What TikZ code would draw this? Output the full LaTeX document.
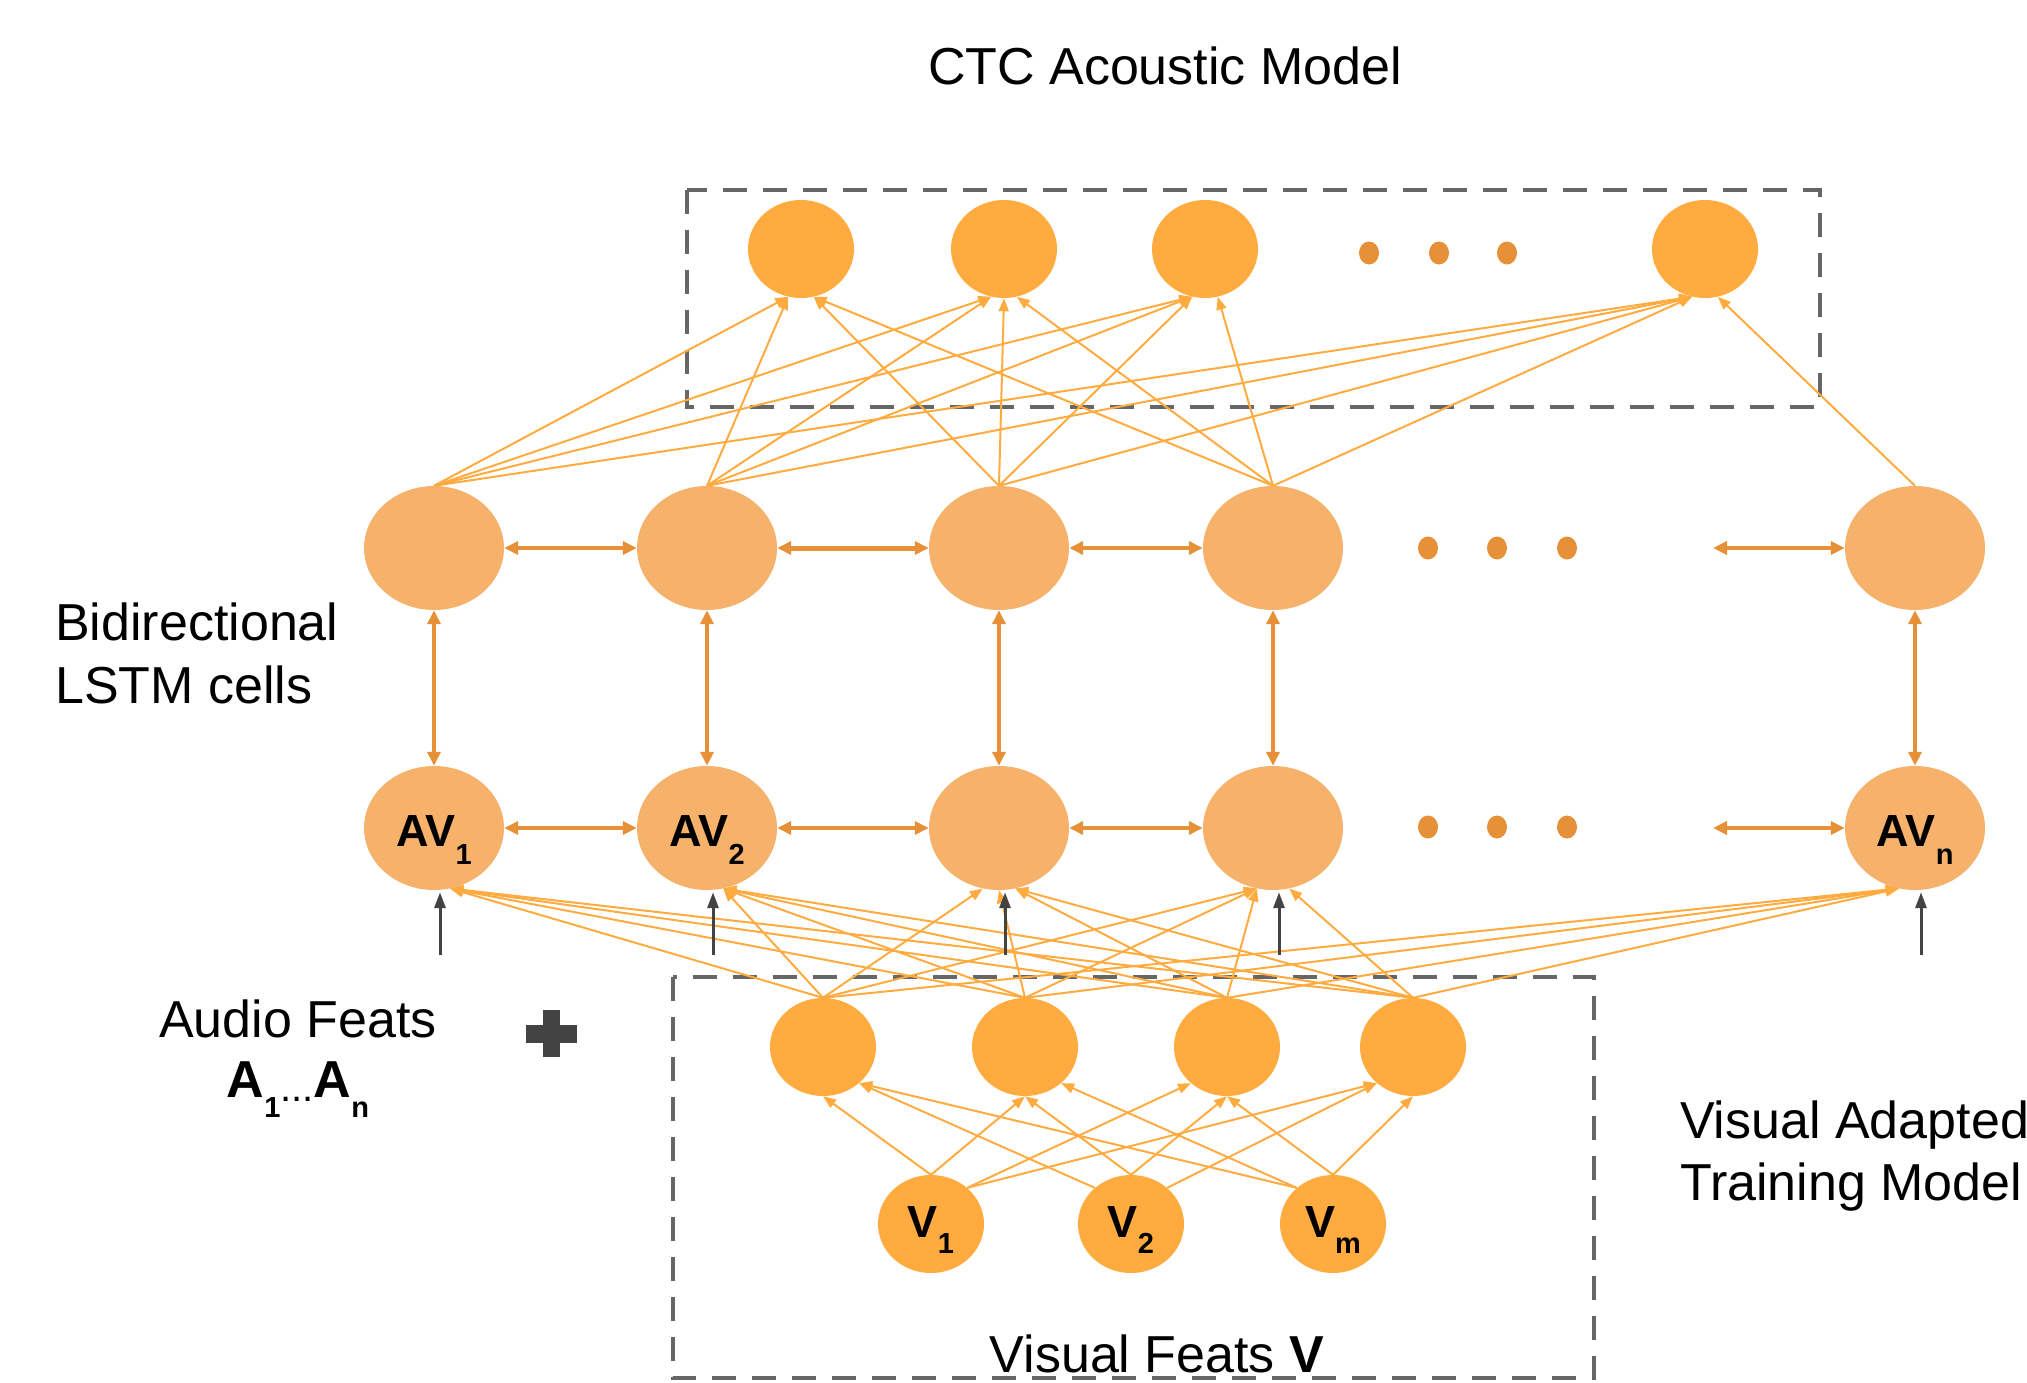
\documentclass[tikz,border=0pt]{standalone}
\usepackage{fontspec}
\setmainfont{Liberation Sans}
\usetikzlibrary{arrows.meta,shapes.geometric}
\definecolor{nodeor}{HTML}{FFAB40}
\definecolor{lstmor}{HTML}{F6B26B}
\definecolor{darkor}{HTML}{E69138}
\definecolor{boxgray}{HTML}{666666}
\definecolor{blkc}{HTML}{434343}
\newcommand\dsub[2]{\raisebox{#1}{\fontsize{29}{29}\selectfont #2}}
\begin{document}
\begin{tikzpicture}[x=1pt,y=-1pt,
  outnode/.style={ellipse, fill=nodeor, minimum width=106pt, minimum height=98pt, inner sep=0pt},
  lstmnode/.style={ellipse, fill=lstmor, minimum width=140pt, minimum height=124pt, inner sep=0pt},
  dotnode/.style={ellipse, fill=darkor, minimum width=20pt, minimum height=23pt, inner sep=0pt},
  avlbl/.style={font=\fontsize{45}{45}\selectfont\bfseries, text height=36pt, text depth=0pt},
  vlbl/.style={font=\fontsize{45}{45}\selectfont\bfseries, text height=26pt, text depth=0pt},
  txt/.style={font=\fontsize{52}{62}\selectfont, inner sep=0pt},
  fan/.style={draw=nodeor, line width=2pt, -{Triangle[length=13pt,width=10pt]}},
  dbl/.style={draw=darkor, line width=3.5pt, {Triangle[length=14pt,width=13pt]}-{Triangle[length=14pt,width=13pt]}},
  blkarrow/.style={draw=blkc, line width=3pt, -{Triangle[length=16pt,width=11pt]}},
  dbox/.style={draw=boxgray, line width=4pt, dash pattern=on 24pt off 16pt}
]
\useasboundingbox (0,0) rectangle (2027,1383);

% dashed boxes
\draw[dbox] (687,190) rectangle (1820,407);
\draw[dbox] (673,977) rectangle (1594,1378);

% CTC output nodes
\node[outnode] (o1) at (801,249) {};
\node[outnode] (o2) at (1004,249) {};
\node[outnode] (o3) at (1205,249) {};
\node[outnode] (o4) at (1705,249) {};
\node[dotnode] (td1) at (1369,253) {};
\node[dotnode] (td2) at (1439,253) {};
\node[dotnode] (td3) at (1507,253) {};

% LSTM row
\node[lstmnode] (l1) at (434,548) {};
\node[lstmnode] (l2) at (707,548) {};
\node[lstmnode] (l3) at (999,548) {};
\node[lstmnode] (l4) at (1273,548) {};
\node[lstmnode] (l5) at (1915,548) {};
\node[dotnode] (ld1) at (1428,548) {};
\node[dotnode] (ld2) at (1497,548) {};
\node[dotnode] (ld3) at (1567,548) {};

% AV row
\node[lstmnode, avlbl] (av1) at (434,828) {AV\dsub{-18pt}{1}};
\node[lstmnode, avlbl] (av2) at (707,828) {AV\dsub{-18pt}{2}};
\node[lstmnode] (av3) at (999,828) {};
\node[lstmnode] (av4) at (1273,828) {};
\node[lstmnode, avlbl] (av5) at (1915,828) {AV\dsub{-18pt}{n}};
\node[dotnode] (ad1) at (1428,827) {};
\node[dotnode] (ad2) at (1497,827) {};
\node[dotnode] (ad3) at (1567,827) {};

% visual hidden nodes
\node[outnode] (h1) at (823,1047) {};
\node[outnode] (h2) at (1025,1047) {};
\node[outnode] (h3) at (1227,1047) {};
\node[outnode] (h4) at (1413,1047) {};

% visual input nodes
\node[outnode, vlbl] (v1) at (931,1224) {V\dsub{-16pt}{1}};
\node[outnode, vlbl] (v2) at (1131,1224) {V\dsub{-16pt}{2}};
\node[outnode, vlbl] (v3) at (1333,1224) {V\dsub{-16pt}{m}};

% top fan: LSTM -> CTC
\foreach \src/\sx in {l1/434,l2/707,l3/999,l4/1273}
  \foreach \tgt/\tx in {o1/801,o2/1004,o3/1205,o4/1705} {
    \pgfmathtruncatemacro\ang{abs(\sx-\tx)<40 ? -90 : (\sx>\tx ? -75 : -105)}
    \draw[fan] (\src.north) -- (\tgt.\ang);
  }
\draw[fan] (l5.north) -- (o4.-75);

% bottom fan: visual hidden -> AV
\foreach \src/\sx in {h1/823,h2/1025,h3/1227,h4/1413}
  \foreach \tgt/\tx in {av1/434,av2/707,av3/999,av4/1273,av5/1915} {
    \pgfmathtruncatemacro\ang{abs(\sx-\tx)<40 ? -90 : (\sx>\tx ? -75 : -105)}
    \draw[fan] (\src.north) -- (\tgt.\ang);
  }

% V -> visual hidden
\foreach \src/\sx in {v1/931,v2/1131,v3/1333}
  \foreach \tgt/\tx in {h1/823,h2/1025,h3/1227,h4/1413} {
    \pgfmathtruncatemacro\sa{abs(\tx-\sx)<150 ? 90 : (\tx>\sx ? 45 : 135)}
    \pgfmathtruncatemacro\ta{abs(\tx-\sx)<150 ? -90 : (\sx>\tx ? -45 : -135)}
    \draw[fan] (\src.\sa) -- (\tgt.\ta);
  }

% horizontal bidirectional arrows
\draw[dbl] (l1.east) -- (l2.west);
\draw[dbl, line width=5pt] (l2.east) -- (l3.west);
\draw[dbl] (l3.east) -- (l4.west);
\coordinate (l5in) at (1713,548);
\draw[dbl] (l5in) -- (l5.west);
\draw[dbl] (av1.east) -- (av2.west);
\draw[dbl] (av2.east) -- (av3.west);
\draw[dbl] (av3.east) -- (av4.west);
\coordinate (av5in) at (1713,828);
\draw[dbl] (av5in) -- (av5.west);

% vertical bidirectional arrows
\foreach \i in {1,...,5} { \draw[dbl] (l\i.south) -- (av\i.north); }

% audio input arrows
\foreach \i in {1,...,5} {
  \draw[blkarrow] ([xshift=6pt,yshift=-65pt]av\i.south) -- ([xshift=6pt,yshift=-2pt]av\i.south);
}

% plus sign
\fill[blkc] (526,1025) rectangle (577,1043);
\fill[blkc] (542.5,1010) rectangle (559.5,1057);

% texts
\node[txt, anchor=base] (ctc) at (1165,85) {CTC Acoustic Model};
\node[txt, anchor=base west] (bidir) at (55,640) {Bidirectional};
\node[txt, anchor=base west] (lstmc) at (55,703) {LSTM cells};
\node[txt, anchor=base] (audio) at (298,1037) {Audio Feats};
\node[txt, anchor=base] (afeat) at (298,1097) {\bfseries A\dsub{-20pt}{1}\raisebox{-4pt}{\mdseries\fontsize{40}{40}\selectfont ...}A\dsub{-20pt}{n}};
\node[txt, anchor=base west] (vis1) at (1680,1138) {Visual Adapted};
\node[txt, anchor=base west] (vis2) at (1680,1200) {Training Model};
\node[txt, anchor=base] (vfeat) at (1157,1372) {Visual Feats \textbf{V}};
\end{tikzpicture}
\end{document}
